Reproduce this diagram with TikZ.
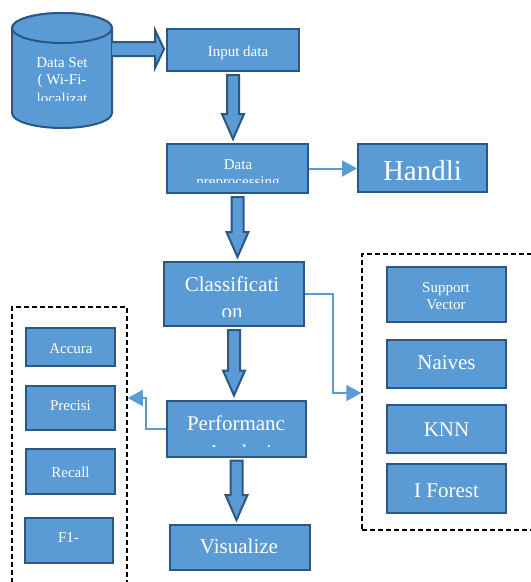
\documentclass[tikz,border=0pt]{standalone}
\usepackage{fontspec}
\setmainfont{Liberation Serif}
\usetikzlibrary{arrows.meta,calc}
\definecolor{bfill}{HTML}{5B9BD5}
\definecolor{bdark}{HTML}{2A5783}
\newcommand{\FatDown}[2]{\path[fat] let \p1=(#1.south), \p2=(#2.north) in
  (\x1-6pt,\y1-3pt) -- (\x1+6pt,\y1-3pt) -- (\x1+6pt,\y2+29pt) -- (\x1+11pt,\y2+29pt)
  -- (\x1,\y2+4pt) -- (\x1-11pt,\y2+29pt) -- (\x1-6pt,\y2+29pt) -- cycle;}
\tikzset{
  box/.style={draw=bdark, fill=bfill, line width=2pt, inner sep=0pt},
  dashbox/.style={draw=black, dash pattern=on 5pt off 3pt, line width=1.5pt, inner sep=0pt},
  small/.style={text=white, font=\fontsize{15}{17}\selectfont, inner sep=0pt, anchor=base},
  large/.style={text=white, font=\fontsize{21}{24}\selectfont, inner sep=0pt, anchor=base},
  huge/.style={text=white, font=\fontsize{29}{33}\selectfont, inner sep=0pt, anchor=base},
  link/.style={draw=bfill, line width=2pt, -{Triangle[length=15pt,width=16pt]}},
  fat/.style={draw=bdark, fill=bfill, line width=2pt, line join=miter},
}
\begin{document}
\begin{tikzpicture}[x=1pt,y=-1pt]
\useasboundingbox (0,0) rectangle (531,582);
% dashed groups
\node[dashbox, minimum width=175pt, minimum height=276pt] (algos) at (449.5,392) {};
\node[dashbox, minimum width=115pt, minimum height=283pt] (metrics) at (69.5,448.5) {};
% cylinder
\path[fat] (12,28) -- (12,113) arc[start angle=180,end angle=360,x radius=50pt,y radius=15pt]
  -- (112,28) arc[start angle=0,end angle=180,x radius=50pt,y radius=15pt] -- cycle;
\draw[fat] (62,28) ellipse [x radius=50pt, y radius=15pt];
\coordinate (dsE) at (112,49);
\begin{scope}
\clip (14,45) rectangle (110,100);
\node[small] (ds1) at (62,67) {Data Set};
\node[small] (ds2) at (62,84) {( Wi-Fi-};
\node[small] (ds3) at (62,103.5) {localizat};
\end{scope}
% boxes
\node[box, minimum width=132pt, minimum height=42pt] (in) at (233,50) {};
\node[box, minimum width=141pt, minimum height=49pt] (pre) at (237.5,168.5) {};
\node[box, minimum width=129pt, minimum height=48pt] (hand) at (422.5,168) {};
\node[box, minimum width=140pt, minimum height=64pt] (cls) at (234,294) {};
\node[box, minimum width=139pt, minimum height=56pt] (perf) at (236.5,428.5) {};
\node[box, minimum width=140pt, minimum height=45pt] (vis) at (240,547.5) {};
\node[box, minimum width=119pt, minimum height=55pt] (svm) at (446.5,294.5) {};
\node[box, minimum width=119pt, minimum height=48pt] (nb) at (446.5,364) {};
\node[box, minimum width=119pt, minimum height=48pt] (knn) at (446.5,429) {};
\node[box, minimum width=119pt, minimum height=49pt] (ifo) at (446.5,488.5) {};
\node[box, minimum width=89pt, minimum height=38pt] (acc) at (70.5,347) {};
\node[box, minimum width=89pt, minimum height=44pt] (prec) at (70.5,408) {};
\node[box, minimum width=89pt, minimum height=45pt] (rec) at (70.5,471.5) {};
\node[box, minimum width=88pt, minimum height=45pt] (f1) at (69,540.5) {};
% texts
\node[small] (tin) at (238,56) {Input data};
\begin{scope}
\clip (168,145) rectangle (307,182);
\node[small] (tpre1) at (238,169) {Data};
\node[small] (tpre2) at (238,186) {preprocessing};
\end{scope}
\node[huge] (thand) at (422.5,180) {Handli};
\begin{scope}
\clip (165,263) rectangle (303,316);
\node[large] (tcls1) at (232,291) {Classificati};
\node[large] (tcls2) at (232,318) {on};
\end{scope}
\begin{scope}
\clip (168,402) rectangle (305,446);
\node[large] (tperf1) at (236,430) {Performanc};
\node[large] (tperf2) at (236,459) {e Analysis};
\end{scope}
\node[large] (tvis) at (239,553) {Visualize};
\node[small] (tsvm1) at (446,292) {Support};
\node[small] (tsvm2) at (446,309) {Vector};
\node[large] (tnb) at (446.5,369) {Naives};
\node[large] (tknn) at (446.5,436) {KNN};
\node[large] (tifo) at (446.5,497) {I Forest};
\node[small] (tacc) at (71,353) {Accura};
\node[small] (tprec) at (70.5,410) {Precisi};
\node[small] (trec) at (70.5,477) {Recall};
\node[small] (tf1) at (68.5,542) {F1-};
% fat arrows
\path[fat] let \p1=(dsE), \p2=(in.west) in
  (\x1,\y1+7pt) -- (\x2-11pt,\y1+7pt) -- (\x2-11pt,\y1+19pt) -- (\x2-2pt,\y1)
  -- (\x2-11pt,\y1-19pt) -- (\x2-11pt,\y1-7pt) -- (\x1,\y1-7pt);
\FatDown{in}{pre}
\FatDown{pre}{cls}
\FatDown{cls}{perf}
\FatDown{perf}{vis}
% thin connectors
\coordinate (c1) at (333,393);
\coordinate (c2) at (146,398);
\draw[link] (pre.east) -- (pre.east -| hand.west);
\draw[link] (cls.east) -| (c1) -- (c1 -| algos.west);
\draw[link] (perf.west) -| (c2) -- (c2 -| metrics.east);
\end{tikzpicture}
\end{document}
